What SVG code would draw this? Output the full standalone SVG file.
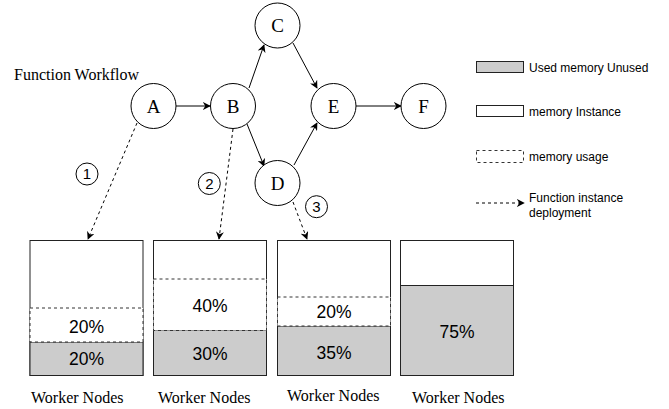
<svg xmlns="http://www.w3.org/2000/svg" width="669" height="409" viewBox="0 0 669 409">
<style>
.node{fill:#fff;stroke:#000;stroke-width:1}
.nl{font-family:"Liberation Serif",serif;font-size:19px;text-anchor:middle;fill:#000}
.serif{font-family:"Liberation Serif",serif;font-size:16px;fill:#000}
.pct{font-family:"Liberation Sans",Arial,sans-serif;font-size:17.5px;text-anchor:middle;fill:#000}
.num{font-family:"Liberation Sans",Arial,sans-serif;font-size:15px;text-anchor:middle;fill:#000}
.lg{font-family:"Liberation Sans",Arial,sans-serif;font-size:12px;fill:#000}
.edge{stroke:#000;stroke-width:1;fill:none}
.dash{stroke:#000;stroke-width:1;fill:none;stroke-dasharray:3,3}
.bar{fill:#fff;stroke:#222;stroke-width:1}
.used{fill:#ccc;stroke:#222;stroke-width:1}
.usage{fill:#fff;stroke:#333;stroke-width:1;stroke-dasharray:3,3}
</style>
<defs>
<marker id="ah" viewBox="0 0 10 10" refX="9" refY="5" markerWidth="8" markerHeight="8" orient="auto" markerUnits="userSpaceOnUse">
<path d="M0,0 L10,5 L0,10 L3,5 z" fill="#000"/>
</marker>
</defs>
<rect width="669" height="409" fill="#fff"/>
<text class="serif" x="14" y="80">Function Workflow</text>
<g id="connectors">
<line class="edge" x1="176" y1="106" x2="210" y2="106" marker-end="url(#ah)"/>
<line class="edge" x1="249" y1="88" x2="264" y2="45" marker-end="url(#ah)"/>
<line class="edge" x1="247" y1="124" x2="264" y2="166" marker-end="url(#ah)"/>
<line class="edge" x1="293" y1="43" x2="317" y2="88" marker-end="url(#ah)"/>
<line class="edge" x1="294" y1="165" x2="317" y2="123" marker-end="url(#ah)"/>
<line class="edge" x1="356" y1="106" x2="401" y2="106" marker-end="url(#ah)"/>
<line class="dash" x1="137" y1="123" x2="88" y2="239" marker-end="url(#ah)"/>
<line class="dash" x1="233" y1="129" x2="219" y2="239" marker-end="url(#ah)"/>
<line class="dash" x1="293" y1="202" x2="307" y2="239" marker-end="url(#ah)"/>
</g>
<g id="node-A"><circle class="node" cx="153.5" cy="106" r="22.5"/><text class="nl" x="153.5" y="112.5">A</text></g>
<g id="node-B"><circle class="node" cx="233" cy="106" r="22.5"/><text class="nl" x="233" y="112.5">B</text></g>
<g id="node-C"><circle class="node" cx="277.5" cy="25.5" r="22.5"/><text class="nl" x="277.5" y="32">C</text></g>
<g id="node-D"><circle class="node" cx="277.5" cy="183" r="22.5"/><text class="nl" x="277.5" y="189.5">D</text></g>
<g id="node-E"><circle class="node" cx="333.5" cy="106" r="22.5"/><text class="nl" x="333.5" y="112.5">E</text></g>
<g id="node-F"><circle class="node" cx="423.5" cy="106" r="22.5"/><text class="nl" x="423.5" y="112.5">F</text></g>
<g id="step-1"><circle class="node" cx="87" cy="174" r="11"/><text class="num" x="87" y="179.3">1</text></g>
<g id="step-2"><circle class="node" cx="209.3" cy="183.5" r="11"/><text class="num" x="209.3" y="188.8">2</text></g>
<g id="step-3"><circle class="node" cx="316.5" cy="206.7" r="11"/><text class="num" x="316.5" y="212">3</text></g>
<g id="worker-1">
<rect class="bar" x="30" y="240.5" width="113" height="135"/>
<rect class="used" x="30" y="342" width="113" height="33.5"/>
<rect class="usage" x="30" y="308" width="113" height="34"/>
<text class="pct" x="86.5" y="333">20%</text>
<text class="pct" x="86.5" y="365">20%</text>
<text class="serif" x="31" y="403">Worker Nodes</text>
</g>
<g id="worker-2">
<rect class="bar" x="153.5" y="240.5" width="113" height="135"/>
<rect class="used" x="153.5" y="330.5" width="113" height="45"/>
<rect class="usage" x="153.5" y="279" width="113" height="51.5"/>
<text class="pct" x="210" y="312">40%</text>
<text class="pct" x="210" y="360">30%</text>
<text class="serif" x="158" y="403">Worker Nodes</text>
</g>
<g id="worker-3">
<rect class="bar" x="277.5" y="240.5" width="113" height="135"/>
<rect class="used" x="277.5" y="326" width="113" height="49.5"/>
<rect class="usage" x="277.5" y="297" width="113" height="29"/>
<text class="pct" x="334" y="318">20%</text>
<text class="pct" x="334" y="359">35%</text>
<text class="serif" x="287" y="401">Worker Nodes</text>
</g>
<g id="worker-4">
<rect class="bar" x="400.5" y="240.5" width="113" height="135"/>
<rect class="used" x="400.5" y="285.5" width="113" height="90"/>
<text class="pct" x="457" y="338">75%</text>
<text class="serif" x="412" y="403">Worker Nodes</text>
</g>
<g id="legend">
<rect class="used" x="476.5" y="61.5" width="47" height="11"/>
<text class="lg" x="529" y="71.5">Used memory Unused</text>
<rect class="bar" x="476.5" y="105.5" width="47" height="11"/>
<text class="lg" x="529" y="116">memory Instance</text>
<rect class="usage" x="476.5" y="150.5" width="47" height="12"/>
<text class="lg" x="529" y="161">memory usage</text>
<line class="dash" x1="476" y1="203" x2="524" y2="203" marker-end="url(#ah)"/>
<text class="lg" x="529" y="202">Function instance</text>
<text class="lg" x="529" y="217">deployment</text>
</g>
</svg>
